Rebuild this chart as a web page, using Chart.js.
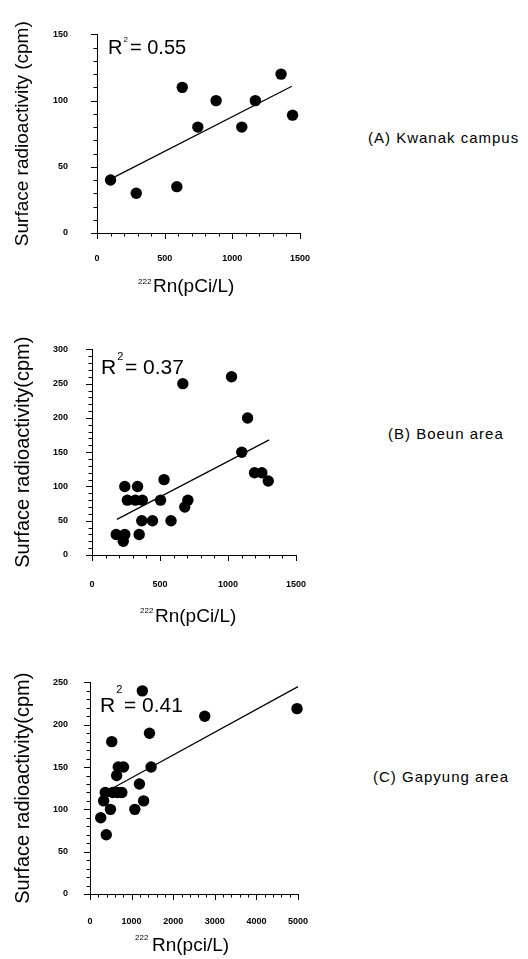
<!DOCTYPE html>
<html><head><meta charset="utf-8">
<script src="https://cdn.jsdelivr.net/npm/chart.js@4/dist/chart.umd.min.js"></script>
<style>
html,body{margin:0;padding:0;background:#fff;width:528px;height:959px;overflow:hidden;position:relative}
canvas{position:absolute;left:0}
.lab{position:absolute;font-family:'Liberation Sans',Arial,sans-serif;font-size:15px;line-height:15px;letter-spacing:1px;color:#000;white-space:nowrap}
</style></head><body>
<canvas id="cA" width="330" height="300" style="top:0px"></canvas>
<canvas id="cB" width="330" height="310" style="top:320px"></canvas>
<canvas id="cC" width="330" height="304" style="top:655px"></canvas>
<div class="lab" style="left:368px;top:130px">(A) Kwanak campus</div>
<div class="lab" style="left:388px;top:426px">(B) Boeun area</div>
<div class="lab" style="left:373px;top:769px">(C) Gapyung area</div>
<script>
// ---- data ----
const panelLabels = ['(A) Kwanak campus', '(B) Boeun area', '(C) Gapyung area'];
const r2Values = ['0.55', '0.37', '0.41'];

const kwanakRn  = [100, 290, 590, 630, 745, 880, 1070, 1170, 1360, 1445];
const kwanakCpm = [40, 30, 35, 110, 80, 100, 80, 100, 120, 89];
const kwanakFitRn  = [95, 1440];
const kwanakFitCpm = [40.5, 110.8];

const boeunRn  = [178, 241, 230, 347, 241, 335, 260, 319, 370, 366, 445, 581, 504, 530, 668, 682, 705, 1026, 1144, 1101, 1195, 1249, 1296];
const boeunCpm = [30, 30, 20, 30, 100, 100, 80, 80, 80, 50, 50, 50, 80, 110, 250, 70, 80, 260, 200, 150, 120, 120, 108];
const boeunFitRn  = [183, 1303];
const boeunFitCpm = [52, 168];

const gapyungRn  = [258, 391, 328, 367, 492, 523, 641, 680, 805, 547, 664, 766, 1078, 1188, 1289, 1258, 1430, 1469, 2758, 4977];
const gapyungCpm = [90, 70, 110, 120, 100, 180, 140, 150, 150, 120, 120, 120, 100, 130, 110, 240, 190, 150, 210, 219];
const gapyungFitRn  = [508, 5000];
const gapyungFitCpm = [124, 245];

const yTitles = ['Surface radioactivity (cpm)', 'Surface radioactivity(cpm)', 'Surface radioactivity(cpm)'];
const xTitles = ['Rn(pCi/L)', 'Rn(pCi/L)', 'Rn(pci/L)'];
const xSup = '222';

// ---- helpers ----
const pts = (xs, ys) => xs.map((x, i) => ({x, y: ys[i]}));
const FONT = "'Liberation Sans', Arial, sans-serif";

const decor = {
  id: 'decor',
  afterDraw(chart, args, o) {
    const ctx = chart.ctx, a = chart.chartArea;
    ctx.save();
    ctx.fillStyle = '#000'; ctx.strokeStyle = '#000'; ctx.lineWidth = 1;
    for (const id of ['x', 'y']) {
      const s = chart.scales[id];
      s.ticks.forEach(t => {
        const p = Math.round(s.getPixelForValue(t.value)) + 0.5;
        const major = t.label !== '' && t.label !== undefined;
        const len = major ? 6 : 3.5;
        ctx.beginPath();
        if (id === 'x') { ctx.moveTo(p, a.bottom); ctx.lineTo(p, a.bottom + len); }
        else { ctx.moveTo(a.left, p); ctx.lineTo(a.left - len, p); }
        ctx.stroke();
      });
    }
    // R^2 annotation
    ctx.textBaseline = 'alphabetic'; ctx.textAlign = 'left';
    const x0 = a.left + o.rx, base = a.top + o.ry;
    ctx.font = o.rSize + 'px ' + FONT;
    ctx.fillText('R', x0, base);
    const wR = ctx.measureText('R').width;
    ctx.font = o.supSize + 'px ' + FONT;
    ctx.fillText('2', x0 + wR + 1, base - o.supRise);
    ctx.font = o.rSize + 'px ' + FONT;
    ctx.fillText('= ' + o.r2, x0 + o.eqDx, base);
    // x axis title with superscript mass number
    ctx.font = '8px ' + FONT;
    ctx.fillText(xSup, a.left + o.supX, a.bottom + o.supY);
    ctx.font = '19px ' + FONT;
    ctx.fillText(o.xTitle, a.left + o.titX, a.bottom + o.titY);
    ctx.restore();
  }
};

function makeChart(id, g, d) {
  return new Chart(document.getElementById(id), {
    type: 'scatter',
    data: {
      datasets: [
        {data: pts(d.xs, d.ys), pointRadius: 5.7, pointHoverRadius: 5.7, backgroundColor: '#000', borderWidth: 0, clip: false, order: 1},
        {data: pts(d.fx, d.fy), showLine: true, pointRadius: 0, borderColor: '#000', borderWidth: 1.2, fill: false, clip: false, order: 2}
      ]
    },
    options: {
      responsive: false, animation: false, events: [],
      layout: {padding: {left: 7, top: g.T, right: g.W - g.R, bottom: 0}},
      plugins: {legend: {display: false}, tooltip: {enabled: false},
        decor: Object.assign({r2: d.r2, xTitle: d.xTitle}, g.dec)},
      scales: {
        x: {
          type: 'linear', min: 0, max: d.xMax,
          afterFit: s => { s.height = g.H - g.B; },
          grid: {display: false, drawTicks: false},
          border: {display: true, color: '#000', width: 1},
          ticks: {stepSize: d.xStep, padding: g.xPad, maxRotation: 0, autoSkip: false, color: '#000',
            font: {family: FONT, size: 9, weight: 'bold'},
            callback: v => (v % d.xMajor === 0 ? String(v) : '')}
        },
        y: {
          type: 'linear', min: 0, max: d.yMax,
          afterFit: s => { s.width = g.L - 7; },
          grid: {display: false, drawTicks: false},
          border: {display: true, color: '#000', width: 1},
          title: {display: true, text: d.yTitle, color: '#000', padding: {top: 4, bottom: 0},
            font: {family: FONT, size: g.ytSize}},
          ticks: {stepSize: 10, padding: g.yPad, autoSkip: false, color: '#000',
            font: {family: FONT, size: 9, weight: 'bold'},
            callback: v => (v % 50 === 0 ? String(v) : '')}
        }
      }
    },
    plugins: [decor]
  });
}

makeChart('cA',
  {W: 330, H: 300, L: 97, R: 307, T: 20, B: 233, xPad: 20, yPad: 29, ytSize: 19,
   dec: {rx: 11, ry: 20, rSize: 20, supSize: 8, supRise: 12, eqDx: 22, supX: 41, supY: 51, titX: 56, titY: 59}},
  {xs: kwanakRn, ys: kwanakCpm, fx: kwanakFitRn, fy: kwanakFitCpm, xMax: 1500, xStep: 100, xMajor: 500,
   yMax: 150, r2: r2Values[0], yTitle: yTitles[0], xTitle: xTitles[0]});

makeChart('cB',
  {W: 330, H: 310, L: 92, R: 306, T: 22, B: 235, xPad: 24, yPad: 24, ytSize: 20,
   dec: {rx: 9, ry: 25, rSize: 21, supSize: 11, supRise: 14, eqDx: 24, supX: 48, supY: 58, titX: 63, titY: 67}},
  {xs: boeunRn, ys: boeunCpm, fx: boeunFitRn, fy: boeunFitCpm, xMax: 1500, xStep: 100, xMajor: 500,
   yMax: 300, r2: r2Values[1], yTitle: yTitles[1], xTitle: xTitles[1]});

makeChart('cC',
  {W: 330, H: 304, L: 90, R: 303, T: 26, B: 239, xPad: 22, yPad: 22, ytSize: 20,
   dec: {rx: 10, ry: 30, rSize: 21, supSize: 11, supRise: 19, eqDx: 24, supX: 45, supY: 46, titX: 62, titY: 57}},
  {xs: gapyungRn, ys: gapyungCpm, fx: gapyungFitRn, fy: gapyungFitCpm, xMax: 5000, xStep: 200, xMajor: 1000,
   yMax: 250, r2: r2Values[2], yTitle: yTitles[2], xTitle: xTitles[2]});
</script>
</body></html>
